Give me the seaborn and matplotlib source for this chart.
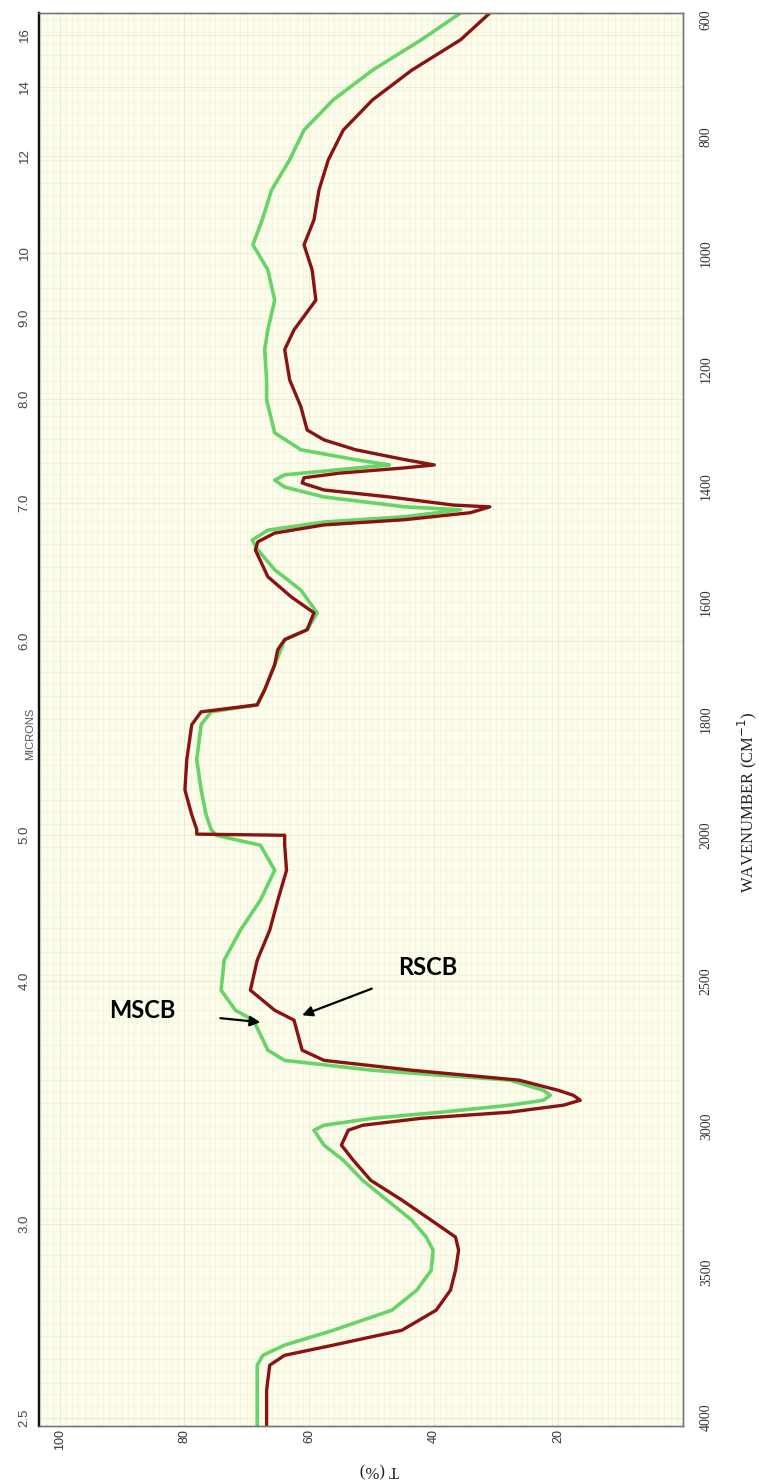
import numpy as np
import matplotlib
matplotlib.use('Agg')
import matplotlib.pyplot as plt
import seaborn as sns
import pandas as pd

# ---- data: wavenumber (cm-1) and transmittance (%) ----
mscb_wavenumber = [588, 634, 686, 737, 789, 840, 892, 943, 986, 1029, 1081, 1132, 1166, 1218, 1252,
                   1309, 1338, 1355, 1364, 1372, 1381, 1390, 1402, 1419, 1436, 1441, 1453, 1462, 1476,
                   1493, 1510, 1544, 1579, 1618, 1647, 1664, 1681, 1707, 1750, 1776, 1788, 1810, 1870,
                   1922, 1965, 1990, 2000, 2034, 2120, 2223, 2326, 2429, 2532, 2601, 2635, 2738, 2773,
                   2807, 2841, 2876, 2893, 2910, 2927, 2951, 2972, 2996, 3013, 3064, 3116, 3185, 3253,
                   3322, 3380, 3425, 3494, 3562, 3631, 3700, 3751, 3786, 3820, 3906, 4029]
mscb_transmittance = [35.7, 42.0, 49.8, 56.1, 60.8, 63.1, 66.0, 67.5, 69.0, 66.6, 65.5, 66.6, 67.1, 66.8, 66.8,
                      65.5, 61.3, 52.5, 47.1, 55.0, 63.9, 65.5, 63.9, 57.6, 44.6, 35.7, 44.6, 57.6, 66.6,
                      69.1, 68.2, 65.5, 61.3, 58.7, 60.3, 63.9, 64.5, 65.5, 67.1, 68.3, 75.7, 77.3, 78.0,
                      77.3, 76.5, 75.7, 74.9, 67.8, 65.5, 67.8, 71.0, 73.6, 74.1, 71.8, 68.9, 66.6, 63.9,
                      49.8, 27.8, 22.4, 21.3, 22.4, 27.8, 38.8, 49.8, 57.6, 59.2, 57.6, 54.5, 51.4, 47.5,
                      43.5, 41.2, 40.1, 40.4, 42.7, 46.7, 56.1, 63.9, 67.4, 68.3, 68.3, 68.3]

rscb_wavenumber = [588, 634, 686, 737, 789, 840, 892, 943, 986, 1029, 1081, 1132, 1166, 1218, 1264,
                   1304, 1321, 1338, 1355, 1364, 1369, 1378, 1386, 1395, 1407, 1419, 1433, 1436, 1446,
                   1458, 1467, 1481, 1496, 1510, 1556, 1591, 1618, 1647, 1664, 1681, 1707, 1750, 1776,
                   1788, 1810, 1870, 1922, 1965, 1990, 1998, 2000, 2034, 2120, 2223, 2326, 2429, 2532,
                   2601, 2635, 2738, 2773, 2807, 2841, 2876, 2893, 2910, 2927, 2951, 2972, 2996, 3013,
                   3064, 3116, 3185, 3253, 3322, 3380, 3425, 3494, 3562, 3631, 3700, 3751, 3786, 3820,
                   3906, 4029]
rscb_transmittance = [31.0, 35.7, 43.5, 49.8, 54.5, 56.9, 58.4, 59.2, 60.8, 59.5, 58.9, 62.4, 63.9, 63.1, 61.3,
                      60.3, 57.6, 52.5, 44.6, 39.9, 44.6, 55.0, 60.8, 61.1, 57.6, 47.1, 36.8, 31.0, 34.1,
                      44.6, 57.6, 65.5, 68.2, 68.6, 66.6, 62.8, 59.2, 60.3, 63.9, 65.0, 65.5, 67.1, 68.3,
                      77.3, 78.8, 79.6, 79.9, 78.8, 78.0, 78.0, 63.9, 63.9, 63.6, 65.0, 66.3, 68.3, 69.4,
                      65.5, 62.4, 61.1, 57.6, 43.5, 26.3, 20.0, 17.6, 16.5, 19.2, 27.8, 42.0, 51.4, 53.7,
                      54.8, 52.9, 50.1, 45.1, 40.4, 36.5, 36.0, 36.5, 37.3, 39.6, 45.1, 56.1, 63.9, 66.3,
                      66.8, 66.8]

t_ticks = [100, 80, 60, 40, 20]
wavenumber_ticks = [600, 800, 1000, 1200, 1400, 1600, 1800, 2000, 2500, 3000, 3500, 4000]
micron_ticks = [2.5, 3.0, 4.0, 5.0, 6.0, 7.0, 8.0, 9.0, 10, 12, 14, 16]
micron_labels = ['2.5', '3.0', '4.0', '5.0', '6.0', '7.0', '8.0', '9.0', '10', '12', '14', '16']

# ---- piecewise wavenumber scale (2000-4000 drawn at half scale) ----
def fwd(v):
    v = np.asarray(v, dtype=float)
    return np.where(v <= 2000, v, 2000 + (v - 2000) / 2.0)

def inv(u):
    u = np.asarray(u, dtype=float)
    return np.where(u <= 2000, u, 2000 + (u - 2000) * 2.0)

sns.set_theme(style='white')
plt.rcParams['font.family'] = ['DejaVu Sans']

fig = plt.figure(figsize=(7.59, 14.83), dpi=100)
ax = fig.add_axes([0.0514, 0.0384, 0.8486, 0.9528])
ax.set_facecolor('#fdfdec')

df_m = pd.DataFrame({'T': mscb_transmittance, 'nu': mscb_wavenumber})
df_r = pd.DataFrame({'T': rscb_transmittance, 'nu': rscb_wavenumber})
sns.lineplot(data=df_m, x='T', y='nu', sort=False, estimator=None, orient='y',
             color='#66d466', lw=2.6, ax=ax)
sns.lineplot(data=df_r, x='T', y='nu', sort=False, estimator=None, orient='y',
             color='#8a1212', lw=2.4, ax=ax)

ax.set_yscale('function', functions=(fwd, inv))
ax.set_ylim(4029, 588)
ax.set_xlim(103.3, 2.3)

# fine chart-paper grid
ax.set_xticks(np.arange(0, 104, 1), minor=True)
ax.set_yticks(np.concatenate([np.arange(600, 2000, 20), np.arange(2000, 4040, 40)]), minor=True)
ax.grid(which='minor', color='#f1f1dc', lw=0.5)
ax.grid(which='major', color='#e9e9d2', lw=0.6)
ax.set_axisbelow(True)

# bottom: transmittance
ax.set_xticks(t_ticks)
ax.set_xticklabels([str(t) for t in t_ticks], rotation=90, fontsize=9,
                   family='Liberation Sans', color='#333333')
ax.tick_params(axis='x', which='both', length=0, pad=2)

# left: microns (on the main axes)
ax.yaxis.tick_left()
ax.set_yticks([10000.0 / m for m in micron_ticks])
ax.set_yticklabels(micron_labels, rotation=90, va='center', fontsize=9.5,
                   family='Liberation Sans', color='#444444')
ax.tick_params(axis='y', which='both', length=0, pad=6)
ax.set_xlabel('')
ax.set_ylabel('')

# right: wavenumber (twin axes with identical scale)
axr = ax.twinx()
axr.set_yscale('function', functions=(fwd, inv))
axr.set_ylim(4029, 588)
axr.yaxis.tick_right()
axr.set_yticks(wavenumber_ticks)
axr.set_yticklabels([str(w) for w in wavenumber_ticks], rotation=90, va='center', fontsize=10,
                    family='Liberation Serif', color='#333333')
axr.tick_params(axis='y', which='both', length=0, pad=12)
axr.grid(False)
axr.set_ylabel('')

for a in (ax, axr):
    for side in ('top', 'right', 'bottom'):
        a.spines[side].set_color('#777777')
        a.spines[side].set_linewidth(1.0)
    a.spines['left'].set_color('#111111')
    a.spines['left'].set_linewidth(1.6)

fig.text(0.040, 0.505, 'MICRONS', rotation=90, ha='center', va='center', fontsize=8,
         color='#555555', family='Liberation Sans')
fig.text(0.984, 0.459, 'WAVENUMBER (CM$^{-1}$)', rotation=90, ha='center', va='center',
         fontsize=12, color='#222222', family='Liberation Serif')
fig.text(0.5, 0.009, 'T (%)', rotation=180, ha='center', va='center', fontsize=12,
         color='#222222', family='Liberation Serif')

ax.annotate('MSCB', xy=(67.8, 2642), xytext=(86.7, 2601), ha='center', va='center',
            fontsize=17, fontweight='bold', family='Lato', color='black',
            arrowprops=dict(arrowstyle='-|>', color='black', lw=1.6, mutation_scale=15,
                            shrinkA=30, shrinkB=0))
ax.annotate('RSCB', xy=(61.1, 2618), xytext=(40.9, 2453), ha='center', va='center',
            fontsize=17, fontweight='bold', family='Lato', color='black',
            arrowprops=dict(arrowstyle='-|>', color='black', lw=1.6, mutation_scale=15,
                            shrinkA=18, shrinkB=0))

fig.savefig('out.png', dpi=100, facecolor='white')
